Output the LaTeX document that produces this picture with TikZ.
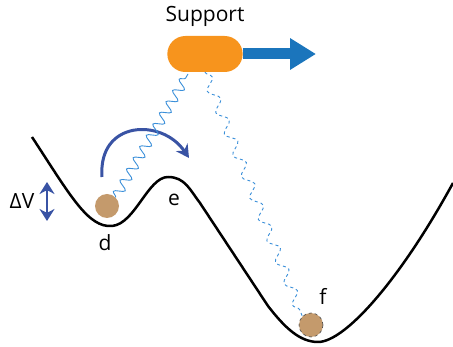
\documentclass[tikz,border=0pt]{standalone}
\usepackage{fontspec}
\setmainfont{Open Sans}
\usetikzlibrary{positioning,shapes.misc,arrows.meta,decorations.pathmorphing}

\definecolor{pillorange}{HTML}{F7941D}
\definecolor{pushblue}{HTML}{1B75BC}
\definecolor{hopblue}{HTML}{3953A4}
\definecolor{wavecolor}{HTML}{3A8FD9}
\definecolor{balltan}{HTML}{C49A6C}

\tikzset{
  lbl/.style={font=\fontsize{21}{25}\selectfont, inner sep=0pt},
  ball/.style={circle, fill=balltan, minimum size=24pt, inner sep=0pt},
  wave/.style={wavecolor, line width=0.9pt,
    decorate, decoration={snake, amplitude=5pt, segment length=13pt}},
}

\begin{document}
\begin{tikzpicture}[x=1pt, y=-1pt]
  \useasboundingbox (0,0) rectangle (453,347);
  % support and its push
  \node[rounded rectangle, fill=pillorange, minimum width=82pt, minimum height=36pt] (support) at (205,54) {};
  \node[lbl, above=9pt of support] (support label) {Support};
  \coordinate (push) at (316,54);
  \draw[pushblue, line width=11pt, -{Triangle[length=26pt,width=30pt]}] (support.east) -- (push);
  % potential
  \draw[line width=2.5pt, line join=round]
    (32,137) .. controls (70,195) and (88,228) .. (112,226)
    .. controls (135,224) and (148,177) .. (168,177)
    .. controls (185,177) and (190,190) .. (200,203)
    -- (268,306)
    .. controls (285,328) and (300,342) .. (318,342)
    .. controls (345,342) and (400,280) .. (453,183);
  % particles
  \node[ball] (d ball) at (107,206) {};
  \node[ball, draw=black!70, dashed, line width=0.6pt] (f ball) at (311,325) {};
  \node[lbl] (d) at (105,243) {d};
  \node[lbl] (e) at (174,200) {e};
  \node[lbl] (f) at (323,296) {f};
  \node[lbl] (dv) at (22,201) {ΔV};
  \coordinate (dv top) at (47,182);
  \coordinate (dv bottom) at (47,221);
  \draw[hopblue, line width=2.5pt, {Stealth[length=12pt,width=15pt]}-{Stealth[length=12pt,width=15pt]}] (dv top) -- (dv bottom);
  % hop
  \coordinate (hop start) at (102,177);
  \coordinate (hop end) at (189,158);
  \draw[hopblue, line width=3pt, -{Stealth[length=13pt,width=14pt]}]
    (hop start) .. controls (98,120) and (162,118) .. (hop end);
  % couplings
  \coordinate (wave top) at (188,74);
  \draw[wave] (d ball.north east) -- (wave top);
  \draw[wave, dashed, decoration={segment length=23pt, amplitude=5pt}] (support.south) -- (f ball.north west);
\end{tikzpicture}
\end{document}
